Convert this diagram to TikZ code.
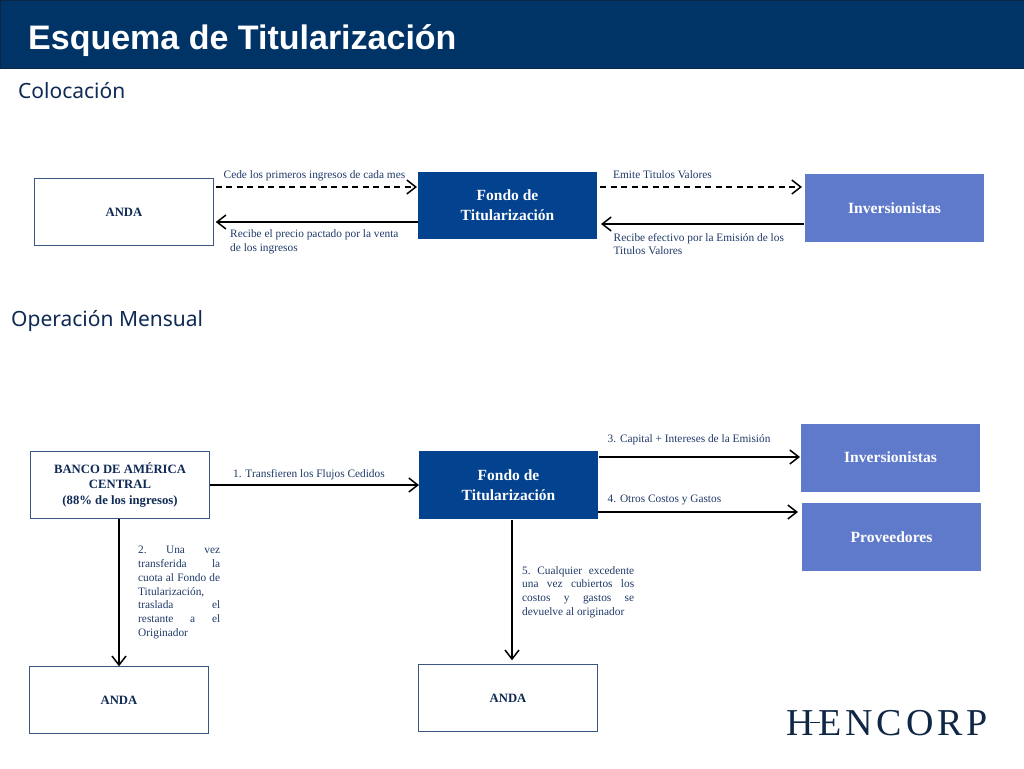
\documentclass[tikz,border=0pt]{standalone}
\usepackage{fontspec}
\setmainfont{Liberation Serif}
\newfontfamily\arialfont{Liberation Sans}
\newfontfamily\headfont{Noto Sans}
\newfontfamily\logofont[LetterSpace=10]{Liberation Serif}
\usetikzlibrary{arrows.meta}
\definecolor{banner}{HTML}{003366}
\definecolor{bannerline}{HTML}{0B2545}
\definecolor{fondo}{HTML}{03428F}
\definecolor{inver}{HTML}{5F7ACB}
\definecolor{outline}{HTML}{3A5580}
\definecolor{navy}{HTML}{0F2A55}
\definecolor{labeltxt}{HTML}{1F3A68}
\definecolor{logoc}{HTML}{0F2745}
\tikzset{
  x=1pt,y=-1pt,
  whitebox/.style={draw=outline,line width=1.3pt,fill=white,text=navy,font=\fontsize{12.7}{15}\selectfont\bfseries,align=center,minimum width=179.5pt,minimum height=67.5pt,inner sep=0pt,outer sep=0pt},
  fondobox/.style={fill=fondo,text=white,font=\fontsize{15.5}{20}\selectfont\bfseries,align=center,minimum width=179pt,minimum height=67pt,inner sep=0pt,outer sep=0pt},
  inverbox/.style={fill=inver,text=white,font=\fontsize{15.6}{20}\selectfont\bfseries,align=center,minimum width=179pt,minimum height=68pt,inner sep=0pt,outer sep=0pt},
  lbl/.style={anchor=west,inner sep=0pt,text=labeltxt,font=\fontsize{11.35}{13.8}\selectfont,align=left},
  head/.style={anchor=west,inner sep=0pt,text=navy,font=\fontsize{21}{24}\selectfont\headfont},
  arrowline/.style={draw=black,line width=1.5pt,-{Straight Barb[length=9pt,width=14pt,line width=1.5pt]}},
  dashedarrow/.style={arrowline,dash pattern=on 6pt off 4.5pt},
}
\newcommand{\jl}[2][82pt]{\makebox[#1][s]{#2}}
\begin{document}
\begin{tikzpicture}
\useasboundingbox (0,0) rectangle (1024,768);
\fill[white] (0,0) rectangle (1024,768);
\path[fill=banner,draw=bannerline,line width=1pt] (0,0.5) rectangle (1024,68);
\node[anchor=west,inner sep=0pt,text=white,font=\fontsize{34}{38}\selectfont\arialfont\bfseries] (title) at (28,41) {Esquema de Titularización};
\node[head] (h1) at (18,90.5) {Colocación};
\node[head] (h2) at (11,320.5) {Operación Mensual};

% Colocacion
\node[whitebox] (anda1) at (124,212) {\raisebox{-3pt}{ANDA}};
\node[fondobox] (fondo1) at (507.5,205.5) {\raisebox{-1.5pt}{Fondo de}\\\raisebox{-1.5pt}{Titularización}};
\node[inverbox] (inv1) at (894.5,208) {\raisebox{-3.5pt}{Inversionistas}};
\draw[dashedarrow] ([xshift=2pt,yshift=25pt]anda1.east) -- ([xshift=-1pt,yshift=18.5pt]fondo1.west);
\draw[arrowline] ([yshift=-16.5pt]fondo1.west) -- ([xshift=2pt,yshift=-10pt]anda1.east);
\draw[dashedarrow] ([xshift=3pt,yshift=18.5pt]fondo1.east) -- ([xshift=-3pt,yshift=21pt]inv1.west);
\draw[arrowline] ([xshift=-1pt,yshift=-16pt]inv1.west) -- ([xshift=4pt,yshift=-18.5pt]fondo1.east);
\node[lbl] (l1) at (223.5,175.7) {Cede los primeros ingresos de cada mes};
\node[lbl] (l2) at (230,242) {Recibe el precio pactado por la venta\\de los ingresos};
\node[lbl] (l3) at (613,175) {Emite Titulos Valores};
\node[lbl] (l4) at (613.5,244) {Recibe efectivo por la Emisión de los\\Titulos Valores};

% Operacion mensual
\node[whitebox,font=\fontsize{12.7}{15.5}\selectfont\bfseries] (banco) at (120,485) {\raisebox{-1.5pt}{BANCO DE AMÉRICA}\\\raisebox{-1pt}{CENTRAL}\\\raisebox{-1pt}{(88\% de los ingresos)}};
\node[fondobox,minimum height=68pt] (fondo2) at (508.5,485) {\raisebox{-1.5pt}{Fondo de}\\\raisebox{-1.5pt}{Titularización}};
\node[inverbox] (inv2) at (890.5,457.5) {\raisebox{-3pt}{Inversionistas}};
\node[inverbox] (prov) at (891.5,537) {\raisebox{-2.5pt}{Proveedores}};
\node[whitebox] (anda2) at (119,700) {\raisebox{-3pt}{ANDA}};
\node[whitebox] (anda3) at (508,698) {\raisebox{-3pt}{ANDA}};
\draw[arrowline] (banco.east) -- (fondo2.west);
\draw[arrowline] ([xshift=1pt,yshift=28pt]fondo2.east) -- ([xshift=-1pt,yshift=0.5pt]inv2.west);
\draw[arrowline] ([yshift=-27pt]fondo2.east) -- ([xshift=-4pt,yshift=25pt]prov.west);
\draw[arrowline] ([xshift=-1pt]banco.south) -- (anda2.north);
\draw[arrowline] ([xshift=3.5pt,yshift=-1pt]fondo2.south) -- ([xshift=4pt,yshift=4pt]anda3.north);
\node[lbl] (l5) at (233,475) {1. Transfieren los Flujos Cedidos};
\node[lbl] (l6) at (607.5,440) {3. Capital + Intereses de la Emisión};
\node[lbl] (l7) at (607.5,500) {4. Otros Costos y Gastos};
\node[lbl] (l8) at (138,592.5) {\jl{2.\hfill Una\hfill vez}\\\jl{transferida\hfill la}\\\jl{cuota al Fondo de}\\Titularización,\\\jl{traslada\hfill el}\\\jl{restante\hfill a\hfill el}\\Originador};
\node[lbl] (l9) at (522,592) {\jl[112pt]{5.\hfill Cualquier\hfill excedente}\\\jl[112pt]{una\hfill vez\hfill cubiertos\hfill los}\\\jl[112pt]{costos\hfill y\hfill gastos\hfill se}\\devuelve al originador};

% logo
\node[anchor=base west,inner sep=0pt,text=logoc,font=\fontsize{38}{40}\selectfont\logofont] (logo) at (786,735) {H\hspace{5pt}ENCORP};
\draw[logoc,line width=1pt] (810,722) -- (820,722);
\end{tikzpicture}
\end{document}
